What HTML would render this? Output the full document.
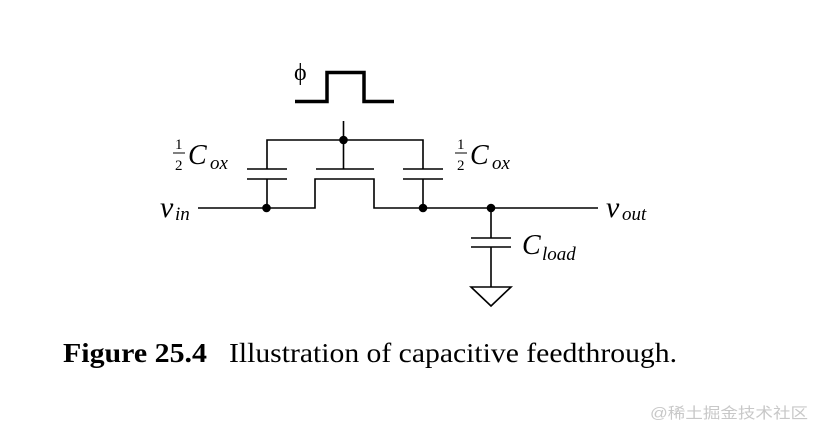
<!DOCTYPE html>
<html><head><meta charset="utf-8"><style>
html,body{margin:0;padding:0;background:#fff;}
svg{display:block;}
</style></head><body>
<svg width="818" height="433" viewBox="0 0 818 433" xmlns="http://www.w3.org/2000/svg">
<g fill="none" stroke="#000">
<polyline points="295,101.5 327,101.5 327,72.5 364,72.5 364,101.5 394,101.5" stroke-width="3.5"/>
<g stroke-width="1.6">
<line x1="343.5" y1="121" x2="343.5" y2="169"/>
<polyline points="267,169 267,140 423,140 423,169"/>
<line x1="247" y1="169" x2="287" y2="169"/>
<line x1="247" y1="179" x2="287" y2="179"/>
<line x1="267" y1="179" x2="267" y2="208"/>
<line x1="403" y1="169" x2="443" y2="169"/>
<line x1="403" y1="179" x2="443" y2="179"/>
<line x1="423" y1="179" x2="423" y2="208"/>
<line x1="316" y1="169" x2="374" y2="169"/>
<polyline points="198,208 315,208 315,179 374,179 374,208 598,208"/>
<line x1="491" y1="208" x2="491" y2="238"/>
<line x1="471" y1="238" x2="511" y2="238"/>
<line x1="471" y1="247" x2="511" y2="247"/>
<line x1="491" y1="247" x2="491" y2="287"/>
<polygon points="471,287 511,287 491,306"/>
</g>
</g>
<g fill="#000">
<circle cx="343.5" cy="140" r="4.3"/>
<circle cx="266.5" cy="208" r="4.3"/>
<circle cx="423" cy="208" r="4.3"/>
<circle cx="491" cy="208" r="4.3"/>
</g>
<g font-family="Liberation Serif, serif" fill="#000">
<text x="294" y="80" font-size="24">ϕ</text>
<text x="160" y="217" font-size="30" font-style="italic">v</text>
<text x="175" y="220" font-size="19" font-style="italic">in</text>
<text x="606" y="217" font-size="30" font-style="italic">v</text>
<text x="622" y="220" font-size="19" font-style="italic">out</text>
<text x="522" y="254" font-size="28" font-style="italic">C</text>
<text x="542" y="260" font-size="19" font-style="italic">load</text>
<text x="175" y="149" font-size="15">1</text>
<line x1="173" y1="153" x2="185" y2="153" stroke="#000" stroke-width="1"/>
<text x="175" y="170" font-size="15">2</text>
<text x="188" y="164" font-size="28" font-style="italic">C</text>
<text x="210" y="169" font-size="19" font-style="italic">ox</text>
<text x="457" y="149" font-size="15">1</text>
<line x1="455" y1="153" x2="467" y2="153" stroke="#000" stroke-width="1"/>
<text x="457" y="170" font-size="15">2</text>
<text x="470" y="164" font-size="28" font-style="italic">C</text>
<text x="492" y="169" font-size="19" font-style="italic">ox</text>
<text x="63" y="362" font-size="27" font-weight="bold" textLength="144" lengthAdjust="spacingAndGlyphs">Figure 25.4</text>
<text x="229" y="362" font-size="27" textLength="448" lengthAdjust="spacingAndGlyphs">Illustration of capacitive feedthrough.</text>
</g>
<text x="650" y="418" font-family="Liberation Sans, 'Noto Sans CJK SC', sans-serif" font-size="15" fill="#c8c8c8" textLength="158" lengthAdjust="spacingAndGlyphs">@稀土掘金技术社区</text>
</svg>
</body></html>
